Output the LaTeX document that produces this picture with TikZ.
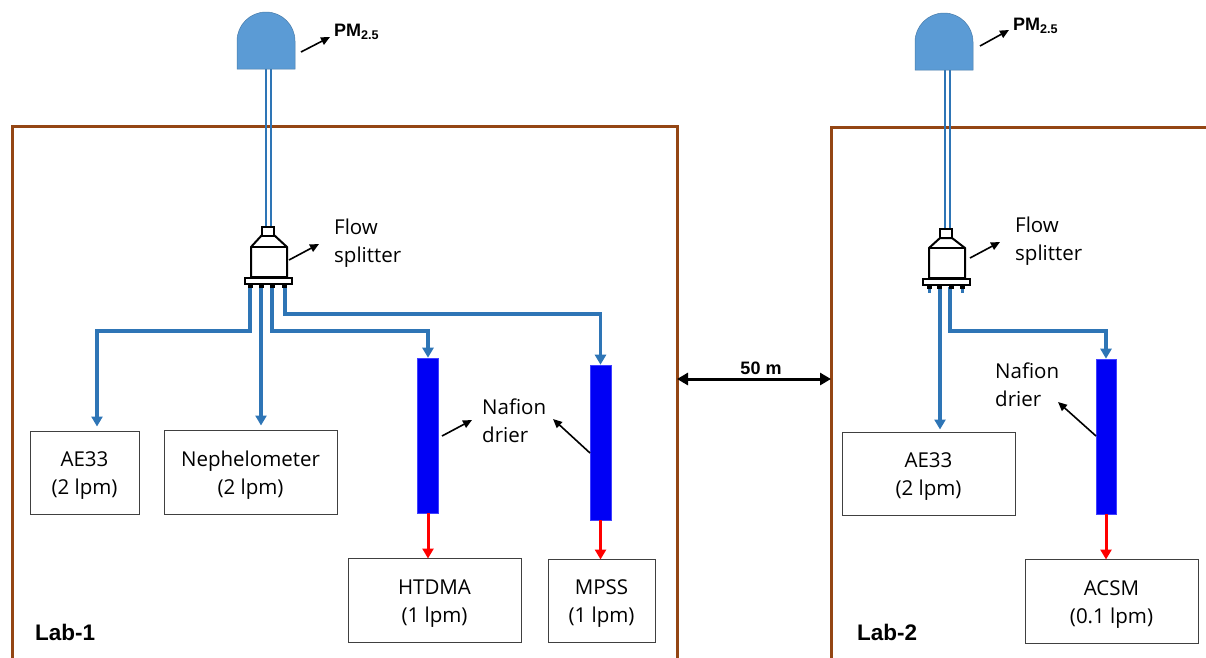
\documentclass[tikz,border=0pt]{standalone}
\usepackage{fontspec}
\setmainfont{Open Sans}
\newfontfamily\labfont{Liberation Sans}
\usetikzlibrary{arrows.meta,calc}
\definecolor{tubeblue}{RGB}{46,117,182}
\definecolor{domeblue}{RGB}{91,155,213}
\definecolor{framebrown}{RGB}{148,70,20}
\definecolor{drierblue}{RGB}{0,0,245}
\definecolor{boxline}{RGB}{64,64,64}
\newcommand{\twolines}[2]{\rule{0pt}{21pt}#1\\#2\rule[-5pt]{0pt}{5pt}}
\tikzset{
  instrbox/.style={draw=boxline,line width=1pt,fill=white,align=center,inner sep=0pt,font=\fontsize{20.5}{28}\selectfont},
  drierbar/.style={draw=blue!75!white,line width=0.6pt,fill=drierblue,inner sep=0pt},
  labtext/.style={font=\labfont\bfseries\fontsize{22.5}{26}\selectfont,inner sep=0pt},
  pmtext/.style={font=\labfont\bfseries\fontsize{18}{20}\selectfont,inner sep=0pt},
  plaintext/.style={font=\fontsize{20.5}{28}\selectfont,align=left,inner sep=0pt},
  labframe/.style={draw=framebrown,line width=3pt},
  tube/.style={draw=tubeblue,line width=3.2pt},
  flowtube/.style={tube,-{Triangle[length=10pt,width=11pt]}},
  redflow/.style={draw=red,line width=3pt,-{Triangle[length=10pt,width=11pt]}},
  pointer/.style={draw=black,line width=1.6pt,-{Triangle[length=9pt,width=8pt]}},
  inlet/.style={draw=tubeblue,line width=1.2pt},
  splitpart/.style={draw=black,line width=2pt,fill=white},
}
\begin{document}
\begin{tikzpicture}[x=1pt,y=-1pt]
\useasboundingbox (0,0) rectangle (1206,657);
\clip (0,0) rectangle (1206,657);
% frames
\coordinate (f1bl) at (12,660);
\coordinate (f1tl) at (12,126.5);
\coordinate (f1tr) at (677,126.5);
\coordinate (f1br) at (677,660);
\coordinate (f2bl) at (831,660);
\coordinate (f2tl) at (831,127.5);
\coordinate (f2tr) at (1210,127.5);
\coordinate (m1) at (677,379);
\coordinate (m2) at (831,379);
\draw[labframe] (f1bl) -- (f1tl) -- (f1tr) -- (f1br);
\draw[labframe] (f2bl) -- (f2tl) -- (f2tr);
% inlet tubes
\draw[inlet] (266,69) -- (266,226);
\draw[inlet] (271,69) -- (271,226);
\draw[inlet] (945,69) -- (945,228);
\draw[inlet] (950,69) -- (950,228);
% domes
\path[fill=domeblue,draw=domeblue!80!black,line width=0.5pt] (237,69) -- (237,41) arc[start angle=180,end angle=360,radius=29] -- (295,69) -- cycle;
\path[fill=domeblue,draw=domeblue!80!black,line width=0.5pt] (915,70) -- (915,42) arc[start angle=180,end angle=360,radius=29] -- (973,70) -- cycle;
% instruments
\node[instrbox,minimum width=109pt,minimum height=83pt] (ae1) at (84.5,472.5) {\twolines{AE33}{(2 lpm)}};
\node[instrbox,minimum width=173pt,minimum height=84pt] (neph) at (250.5,472) {\twolines{Nephelometer}{(2 lpm)}};
\node[instrbox,minimum width=173pt,minimum height=84pt] (htdma) at (434.5,600) {\twolines{HTDMA}{(1 lpm)}};
\node[instrbox,minimum width=107pt,minimum height=83pt] (mpss) at (601.5,600.5) {\twolines{MPSS}{(1 lpm)}};
\node[instrbox,minimum width=173pt,minimum height=83pt] (ae2) at (928.5,473.5) {\twolines{AE33}{(2 lpm)}};
\node[instrbox,minimum width=173pt,minimum height=84pt] (acsm) at (1111.5,601) {\twolines{ACSM}{(0.1 lpm)}};
% driers
\node[drierbar,minimum width=21pt,minimum height=155pt] (d1) at (428,435.5) {};
\node[drierbar,minimum width=21pt,minimum height=155pt] (d2) at (600.5,442.5) {};
\node[drierbar,minimum width=20pt,minimum height=155pt] (d3) at (1106,436.5) {};
% splitter 1
\coordinate (s1p1) at (250,286);
\coordinate (s1p2) at (261,286);
\coordinate (s1p3) at (272,286);
\coordinate (s1p4) at (285,286);
\draw[flowtube] (s1p1) |- (97,331) -- ([xshift=12.5pt,yshift=4pt]ae1.north);
\draw[flowtube] (s1p2) -- ([xshift=10.5pt,yshift=4pt]neph.north);
\draw[flowtube] (s1p3) -- (272,331) -| (d1.north);
\draw[flowtube] (s1p4) -- (285,314) -| (d2.north);
\path[draw=black,line width=2pt,fill=white] (262,235) -- (251,247) -- (251,277) -- (287,277) -- (287,247) -- (274,235) -- cycle;
\draw[black,line width=1.8pt] (251,247) -- (287,247);
\node[splitpart,minimum width=12pt,minimum height=9pt,inner sep=0pt] (s1top) at (268,231) {};
\node[splitpart,minimum width=47pt,minimum height=6pt,inner sep=0pt] (s1fl) at (268,280.5) {};
\foreach \px in {250,261,272,284}{\fill[black] (\px-2.5,284) rectangle (\px+2.5,288);}
% splitter 2
\coordinate (s2p2) at (940,287);
\coordinate (s2p3) at (950,287);
\draw[flowtube] (s2p2) -- ([xshift=11.5pt,yshift=2pt]ae2.north);
\draw[flowtube] (s2p3) -- (950,331) -| (d3.north);
\path[draw=black,line width=2pt,fill=white] (940,238) -- (929,248) -- (929,278) -- (965,278) -- (965,248) -- (952,238) -- cycle;
\draw[black,line width=1.8pt] (929,248) -- (965,248);
\node[splitpart,minimum width=12pt,minimum height=9pt,inner sep=0pt] (s2top) at (946,233) {};
\node[splitpart,minimum width=47pt,minimum height=6pt,inner sep=0pt] (s2fl) at (946.5,281.5) {};
\foreach \px in {929,939,951,962}{\fill[black] (\px-2.5,285) rectangle (\px+2.5,289);}
\draw[tubeblue,line width=3pt] (929,289) -- (929,293);
\draw[tubeblue,line width=3pt] (962,289) -- (962,293);
% red flows
\draw[redflow] (d1.south) -- ([yshift=-1pt]d1.south |- htdma.north);
\draw[redflow] (d2.south) -- ([yshift=-1pt]d2.south |- mpss.north);
\draw[redflow] (d3.south) -- ([yshift=-1pt]d3.south |- acsm.north);
% labels
\node[labtext,anchor=west] (lab1) at (35,632) {Lab-1};
\node[labtext,anchor=west] (lab2) at (857,632) {Lab-2};
\node[pmtext,anchor=west] (pm1) at (334,32) {PM\textsubscript{2.5}};
\node[pmtext,anchor=west] (pm2) at (1013,26) {PM\textsubscript{2.5}};
\node[plaintext,anchor=west] (fs1) at (334,243) {Flow\\splitter};
\node[plaintext,anchor=west] (fs2) at (1015,241) {Flow\\splitter};
\node[plaintext,anchor=west] (naf1) at (482,421) {Nafion\\drier};
\node[plaintext,anchor=west] (naf3) at (995,385) {Nafion\\drier};
\node[font=\labfont\bfseries\fontsize{18}{20}\selectfont,inner sep=0pt] (dist) at (761,368.5) {50 m};
% pointers
\coordinate (a1) at (301,52); \coordinate (a2) at (330,37);
\coordinate (b1) at (980,46); \coordinate (b2) at (1009,30);
\coordinate (c1) at (289,260); \coordinate (c2) at (319,244);
\coordinate (e1) at (970,258); \coordinate (e2) at (1000,242);
\coordinate (g1) at (442,436); \coordinate (g2) at (472,420);
\coordinate (h1) at (590,453); \coordinate (h2) at (553,419);
\coordinate (k1) at (1096,436); \coordinate (k2) at (1058,402);
\foreach \u/\v in {a1/a2,b1/b2,c1/c2,e1/e2,g1/g2,h1/h2,k1/k2}{\draw[pointer] (\u) -- (\v);}
\draw[draw=black,line width=3pt,{Triangle[length=11pt,width=12pt]}-{Triangle[length=11pt,width=12pt]}] (m1) -- (m2);
\end{tikzpicture}
\end{document}
